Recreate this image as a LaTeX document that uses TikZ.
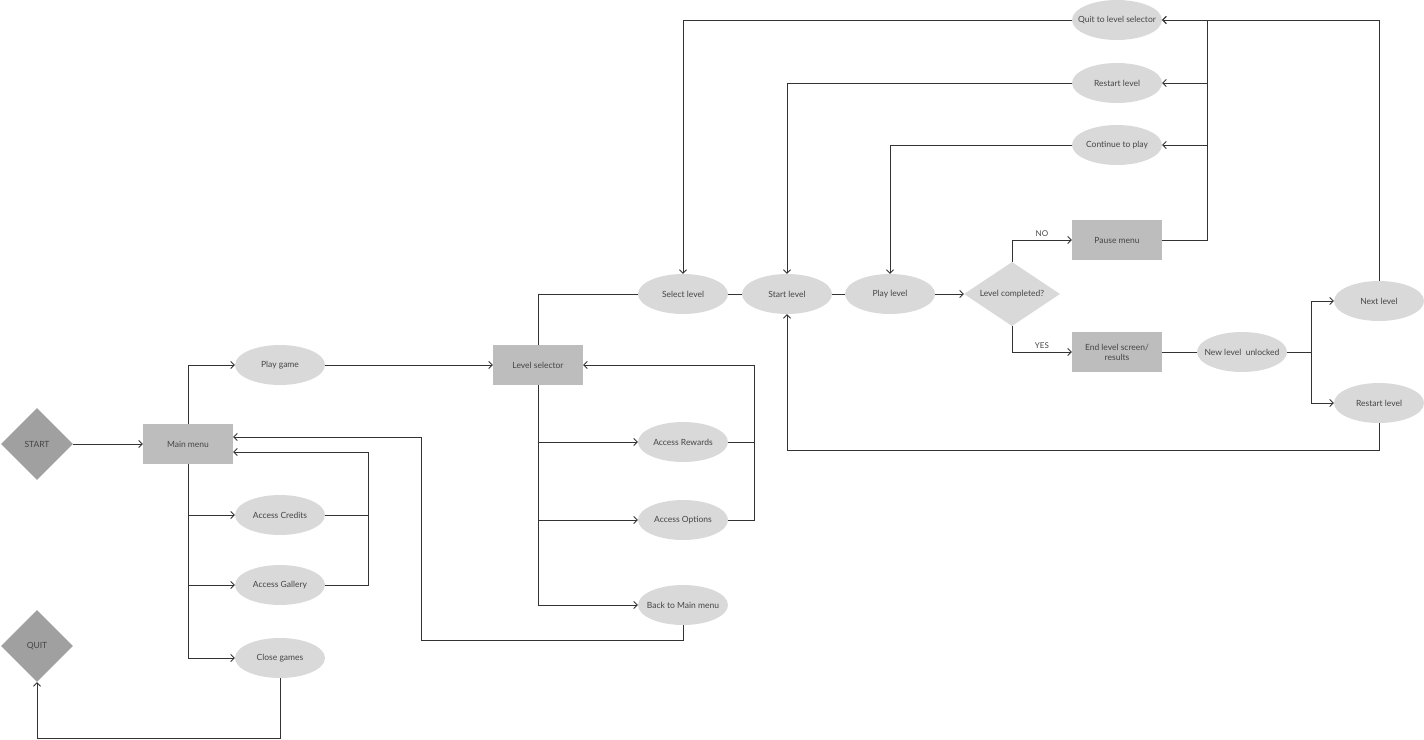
\documentclass[tikz,border=0pt]{standalone}
\usepackage{fontspec}
\setmainfont{Lato}
\usetikzlibrary{shapes.geometric,arrows.meta}
\definecolor{ell}{HTML}{D9D9D9}
\definecolor{boxc}{HTML}{BDBDBD}
\definecolor{dia}{HTML}{A0A0A0}
\definecolor{ln}{HTML}{333333}
\definecolor{tx}{HTML}{454545}
\newcommand\zw[1]{\makebox[0pt]{#1}}
\begin{document}
\begin{tikzpicture}[x=1pt,y=-1pt,
  every node/.style={font=\fontsize{8.5}{10}\selectfont, text=tx},
  oval/.style={ellipse, fill=ell, minimum width=90pt, minimum height=40pt, inner sep=0pt},
  boxn/.style={rectangle, fill=boxc, minimum width=90pt, minimum height=40pt, inner sep=0pt, align=center},
  term/.style={diamond, fill=dia, minimum width=72pt, minimum height=72pt, inner sep=0pt},
  cond/.style={diamond, fill=ell, minimum width=96pt, minimum height=64pt, inner sep=0pt},
  conn/.style={draw=ln, line width=0.9pt},
  arr/.style={conn, -{Straight Barb[length=3.5pt,width=7pt]}},
  lbl/.style={font=\fontsize{8}{9.5}\selectfont, inner sep=2.5pt}
]
\useasboundingbox (0,0) rectangle (1424,739);

% nodes
\node[term] (start) at (37,444) {\zw{START}};
\node[term] (quit) at (37,646) {\zw{QUIT}};
\node[boxn] (main) at (188,444) {Main menu};
\node[oval] (play) at (280,365) {\zw{Play game}};
\node[oval] (credits) at (280,515) {\zw{Access Credits}};
\node[oval] (gallery) at (280,585) {\zw{Access Gallery}};
\node[oval] (close) at (280,658) {\zw{Close games}};
\node[boxn] (lsel) at (538,365) {Level selector};
\node[oval] (rewards) at (683,442) {\zw{Access Rewards}};
\node[oval] (options) at (683,520) {\zw{Access Options}};
\node[oval] (back) at (683,605) {\zw{Back to Main menu}};
\node[oval] (select) at (683,294) {\zw{Select level}};
\node[oval] (startl) at (787,294) {\zw{Start level}};
\node[oval] (playl) at (890,294) {\zw{Play level}};
\node[cond] (cond) at (1012,294) {\zw{Level completed?}};
\node[boxn] (pause) at (1117,240) {Pause menu};
\node[boxn] (endl) at (1117,352) {End level screen/\\results};
\node[oval] (newl) at (1242,352) {\zw{New level\ \ unlocked}};
\node[oval] (next) at (1379,301) {\zw{Next level}};
\node[oval] (restart2) at (1379,403) {\zw{Restart level}};
\node[oval] (quitsel) at (1117,20) {\zw{Quit to level selector}};
\node[oval] (restart1) at (1117,83) {\zw{Restart level}};
\node[oval] (cont) at (1117,145) {\zw{Continue to play}};

% helper coordinates
\coordinate (cg) at (368,452);
\coordinate (bk) at (421,640);
\coordinate (bk2) at (421,437);
\coordinate (cq) at (280,738);
\coordinate (ro) at (754,365);
\coordinate (pr) at (1207,20);
\coordinate (nb) at (1311,352);
\coordinate (rb) at (1379,450);

% connectors
\draw[arr] (start) -- (main);
\draw[arr] (main.north) |- (play);
\draw[arr] (main.south) |- (credits);
\draw[arr] (main.south) |- (gallery);
\draw[arr] (main.south) |- (close);
\draw[conn] (credits.east) -| (cg);
\draw[arr] (gallery.east) -| (cg) -- (main.east |- cg);
\draw[arr] (back.south) |- (bk) -- (bk2) -- (main.east |- bk2);
\draw[arr] (close.south) |- (cq) -| (quit.south);
\draw[arr] (play) -- (lsel);
\draw[arr] (lsel.south) |- (rewards);
\draw[arr] (lsel.south) |- (options);
\draw[arr] (lsel.south) |- (back);
\draw[conn] (rewards.east) -| (ro);
\draw[arr] (options.east) -| (ro) -- (lsel.east);
\draw[conn] (lsel.north) |- (select);
\draw[conn] (select) -- (startl);
\draw[conn] (startl) -- (playl);
\draw[arr] (playl) -- (cond);
\draw[arr] (cond.north) |- (pause) node[lbl, pos=0.75, above] {NO};
\draw[arr] (cond.south) |- (endl) node[lbl, pos=0.75, above] {YES};
\draw[conn] (pause.east) -| (pr);
\draw[arr] (pr) -- (quitsel.east);
\draw[arr] (pr |- restart1) -- (restart1.east);
\draw[arr] (pr |- cont) -- (cont.east);
\draw[arr] (quitsel.west) -| (select.north);
\draw[arr] (restart1.west) -| (startl.north);
\draw[arr] (cont.west) -| (playl.north);
\draw[arr] (next.north) |- (quitsel.east);
\draw[conn] (endl) -- (newl);
\draw[conn] (newl) -- (nb);
\draw[arr] (nb) |- (next);
\draw[arr] (nb) |- (restart2);
\draw[arr] (restart2.south) -- (rb) -| (startl.south);
\end{tikzpicture}
\end{document}
